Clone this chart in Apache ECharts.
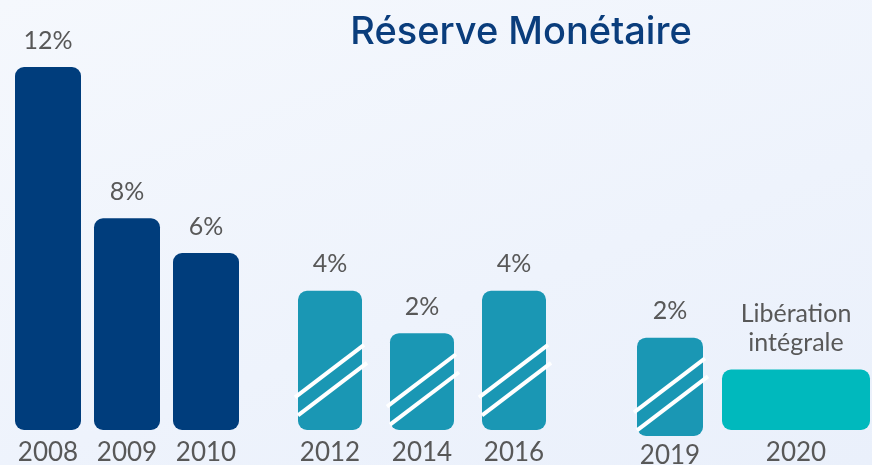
<!DOCTYPE html>
<html>
<head>
<meta charset="utf-8">
<script src="https://cdn.jsdelivr.net/npm/echarts@6/dist/echarts.min.js"></script>
<style>
  html, body { margin: 0; padding: 0; }
  #chart {
    width: 872px; height: 465px;
    background: linear-gradient(160deg, #f5f8fd 0%, #eef3fc 60%, #eaf0fb 100%);
  }
</style>
</head>
<body>
<div id="chart"></div>
<script>
// groupes d'annees
var annees1 = ['2008', '2009', '2010']
var annees2 = ['2012', '2014', '2016']
var annees3 = ['2019']
var annees4 = ['2020']
// hauteur des barres telle que dessinee (infographie, pas a l'echelle)
var niveaux1 = [12, 7.0, 5.85]
var niveaux2 = [4.6, 3.2, 4.6]
var niveaux3 = [3.25]
var niveaux4 = [2.0]
// etiquettes affichees
var etiquettes1 = ['12%', '8%', '6%']
var etiquettes2 = ['4%', '2%', '4%']
var etiquettes3 = ['2%']
var etiquettes4 = ['Libération\nintégrale']

var police = 'Lato, "Noto Sans", sans-serif'
var gris = '#585858'
var bleuFonce = '#003d7c'
var bleuCanard = '#1a97b4'
var turquoise = '#00b9bd'

var chart = echarts.init(document.getElementById('chart'))

function grille (left, width, bottom) {
  return { left: left, width: width, top: 465 - bottom - 363, height: 363, outerBoundsMode: 'none' }
}

function axeX (idx, cats, marge) {
  return {
    type: 'category', gridIndex: idx, data: cats,
    axisLine: { show: false }, axisTick: { show: false }, splitLine: { show: false },
    axisLabel: { color: gris, fontSize: 26, fontFamily: police, margin: marge }
  }
}

function axeY (idx) {
  return { type: 'value', gridIndex: idx, min: 0, max: 12, show: false, splitLine: { show: false } }
}

function barres (idx, valeurs, etiquettes, couleur, largeur) {
  return {
    type: 'bar', xAxisIndex: idx, yAxisIndex: idx,
    data: valeurs, barWidth: largeur, clip: false,
    itemStyle: { color: couleur, borderRadius: 9 },
    label: {
      show: true, position: 'top', distance: 12,
      color: gris, fontSize: 25, fontFamily: police, lineHeight: 29,
      formatter: function (p) { return etiquettes[p.dataIndex] }
    },
    z: 2
  }
}

// deux traits blancs en diagonale sur les barres hachurees
function hachures (idx, valeurs, largeur) {
  return {
    type: 'custom', xAxisIndex: idx, yAxisIndex: idx, clip: false, silent: true,
    data: valeurs.map(function (v, i) { return [i, v] }),
    renderItem: function (params, api) {
      var haut = api.coord([api.value(0), api.value(1)])
      var bas = api.coord([api.value(0), 0])
      var h = bas[1] - haut[1]
      var xG = bas[0] - largeur / 2 - 3
      var xD = bas[0] + largeur / 2 + 2
      var y1 = bas[1] - (0.22 * h + 2)
      var pente = 0.76
      var y2 = y1 - pente * (xD - xG)
      var st = { stroke: '#ffffff', lineWidth: 4 }
      return {
        type: 'group',
        children: [
          { type: 'line', shape: { x1: xG, y1: y1, x2: xD, y2: y2 }, style: st },
          { type: 'line', shape: { x1: xG + 3, y1: y1 + 18, x2: xD + 3, y2: y2 + 18 }, style: st }
        ]
      }
    },
    z: 3
  }
}

chart.setOption({
  backgroundColor: 'transparent',
  title: {
    text: 'Réserve Monétaire',
    left: 516, top: 9, textAlign: 'center',
    textStyle: { color: '#0a3d7c', fontSize: 38, fontWeight: 500, fontFamily: 'Inter, Lato, sans-serif' }
  },
  grid: [
    grille(8.5, 237, 35),
    grille(284, 276, 35),
    grille(620, 100, 29),
    grille(722, 148, 35)
  ],
  xAxis: [axeX(0, annees1, 10), axeX(1, annees2, 10), axeX(2, annees3, 7), axeX(3, annees4, 10)],
  yAxis: [axeY(0), axeY(1), axeY(2), axeY(3)],
  series: [
    barres(0, niveaux1, etiquettes1, bleuFonce, 66),
    barres(1, niveaux2, etiquettes2, bleuCanard, 64),
    hachures(1, niveaux2, 64),
    barres(2, niveaux3, etiquettes3, bleuCanard, 66),
    hachures(2, niveaux3, 66),
    barres(3, niveaux4, etiquettes4, turquoise, 148)
  ]
})
</script>
</body>
</html>
